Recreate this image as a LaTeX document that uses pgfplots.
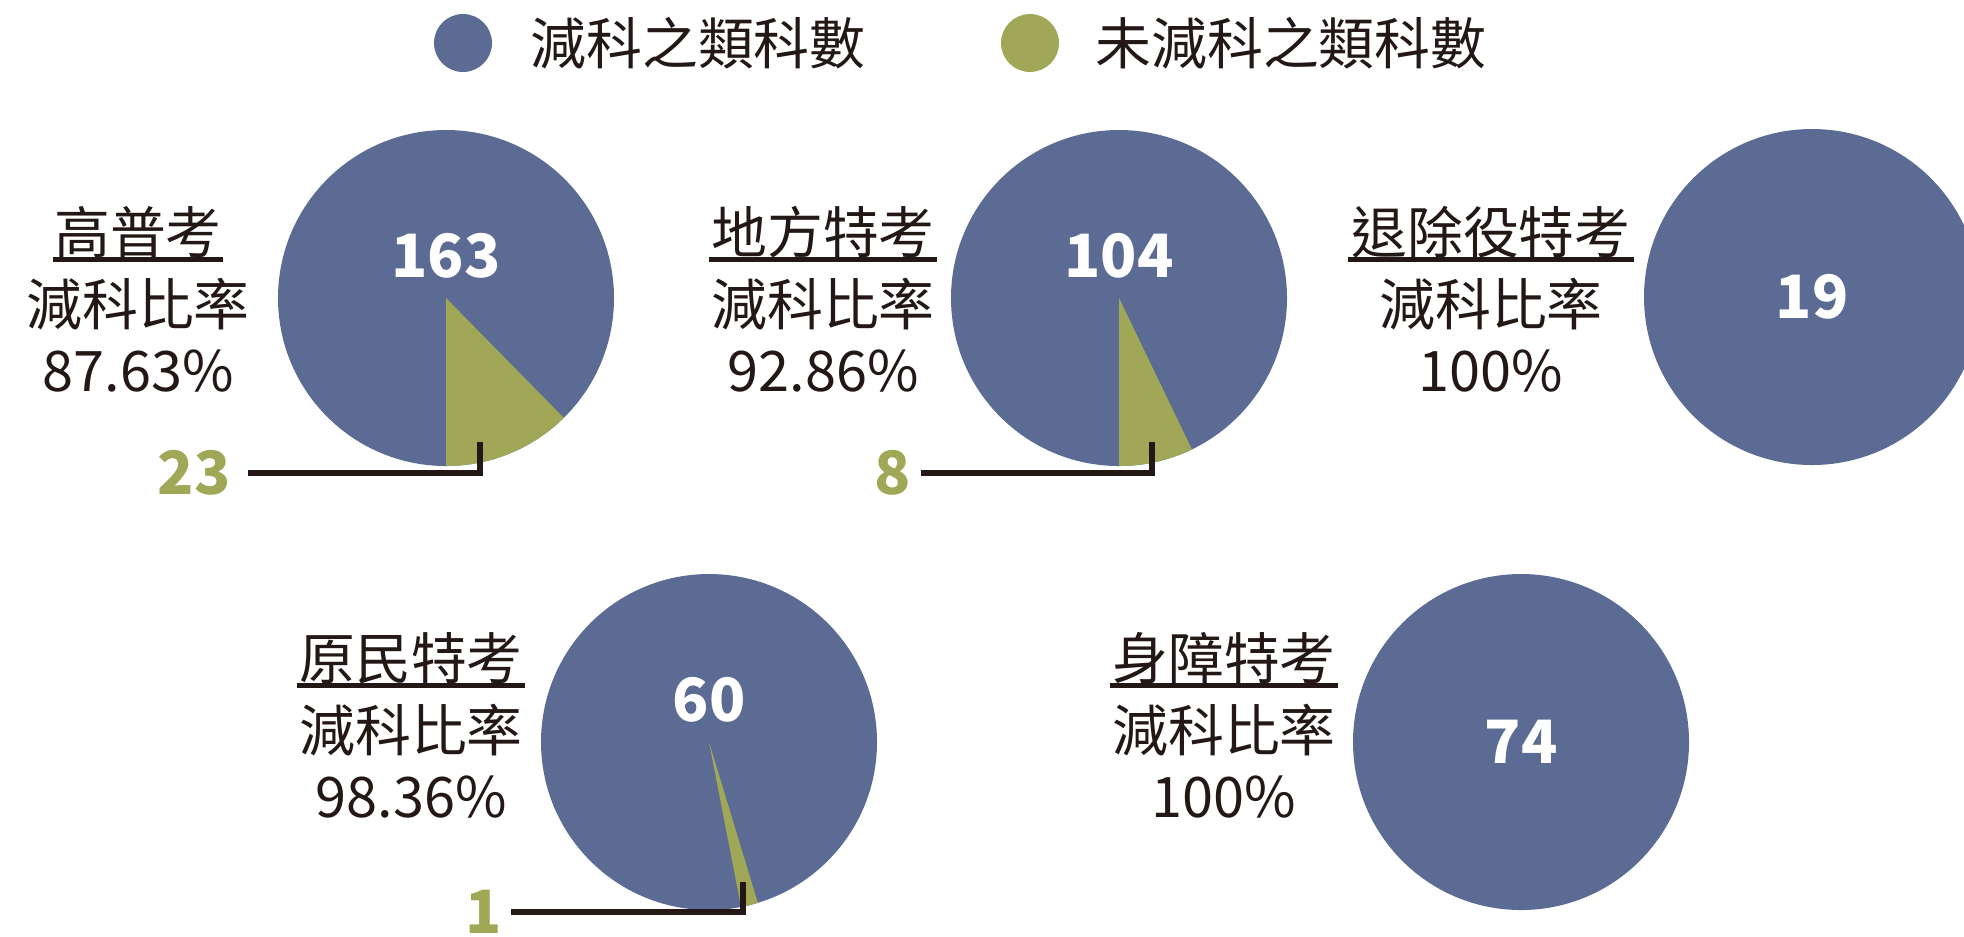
\documentclass[border=0pt]{standalone}
\usepackage{pgfplots}
\pgfplotsset{compat=1.18}
\usepackage{fontspec}
\setmainfont{Noto Sans CJK TC}

\definecolor{pieblue}{HTML}{5B6B93}
\definecolor{piegreen}{HTML}{A0A858}
\definecolor{ink}{HTML}{231815}

% 1 axis unit = 1 pixel of the reference = 0.01cm
% #1,#2 centre; #3 reduced; #4 not reduced; #5 start angle of the green slice
\newcommand{\pie}[5]{%
  \fill[pieblue] (axis cs:#1,#2) circle[radius=1.68cm];
  \fill[piegreen] (axis cs:#1,#2) -- ++(#5:1.68cm)
    arc[start angle=#5, delta angle={360*#4/(#3+#4)}, radius=1.68cm] -- cycle;
  \node[text=white, font=\fontsize{17pt}{20pt}\selectfont\bfseries]
    at (axis cs:#1,#2-42) {#3};
}
% pie with every subject reduced: one full disc, count in the middle
\newcommand{\fullpie}[3]{%
  \fill[pieblue] (axis cs:#1,#2) circle[radius=1.68cm];
  \node[text=white, font=\fontsize{17pt}{20pt}\selectfont\bfseries]
    at (axis cs:#1,#2) {#3};
}
% title block: x centre, title y, title, underline half width, rate
\newcommand{\block}[5]{%
  \node[text=ink, font=\fontsize{15.9pt}{19pt}\selectfont] at (axis cs:#1,#2) {#3};
  \draw[ink, line width=0.05cm] (axis cs:#1-#4,#2+27) -- (axis cs:#1+#4,#2+27);
  \node[text=ink, font=\fontsize{15.9pt}{19pt}\selectfont] at (axis cs:#1,#2+72) {減科比率};
  \node[text=ink, font=\fontsize{15.9pt}{19pt}\selectfont] at (axis cs:#1,#2+139) {#5};
}
% leader for the green slice: label, label x, line start x, corner x, y, top y
\newcommand{\leader}[6]{%
  \node[text=piegreen, font=\fontsize{17pt}{20pt}\selectfont\bfseries] at (axis cs:#2,#5) {#1};
  \draw[ink, line width=0.055cm] (axis cs:#3,#5) -- (axis cs:#4,#5) -- (axis cs:#4,#6);
}

\begin{document}
\begin{tikzpicture}
\begin{axis}[
  width=19.64cm, height=9.36cm, scale only axis,
  xmin=0, xmax=1964, ymin=0, ymax=936,
  y dir=reverse, hide axis, clip=true,
]
\addplot[draw=none, forget plot] coordinates {(0,0) (1964,936)};

% legend
\fill[pieblue] (axis cs:463,43) circle[radius=0.29cm];
\node[text=ink, anchor=west, font=\fontsize{15.9pt}{19pt}\selectfont] at (axis cs:518,43) {減科之類科數};
\fill[piegreen] (axis cs:1030,43) circle[radius=0.29cm];
\node[text=ink, anchor=west, font=\fontsize{15.9pt}{19pt}\selectfont] at (axis cs:1083,43) {未減科之類科數};

% 高普考
\pie{446}{298}{163}{23}{-90}
\block{138}{232}{高普考}{85}{87.63\%}
\leader{23}{194}{248}{480}{473}{442}

% 地方特考
\pie{1119}{298}{104}{8}{-90}
\block{823}{232}{地方特考}{114}{92.86\%}
\leader{8}{893}{921}{1152}{473}{442}

% 退除役特考 (19 reduced, 0 not reduced)
\fullpie{1812}{297}{19}
\block{1491}{232}{退除役特考}{143}{100\%}

% 原民特考
\pie{709}{742}{60}{1}{-79}
\block{411}{658}{原民特考}{114}{98.36\%}
\leader{1}{484}{511}{743}{912}{882}

% 身障特考 (74 reduced, 0 not reduced)
\fullpie{1521}{742}{74}
\block{1224}{658}{身障特考}{114}{100\%}
\end{axis}
\pgfresetboundingbox
\path (current axis.south west) rectangle (current axis.north east);
\end{tikzpicture}
\end{document}
